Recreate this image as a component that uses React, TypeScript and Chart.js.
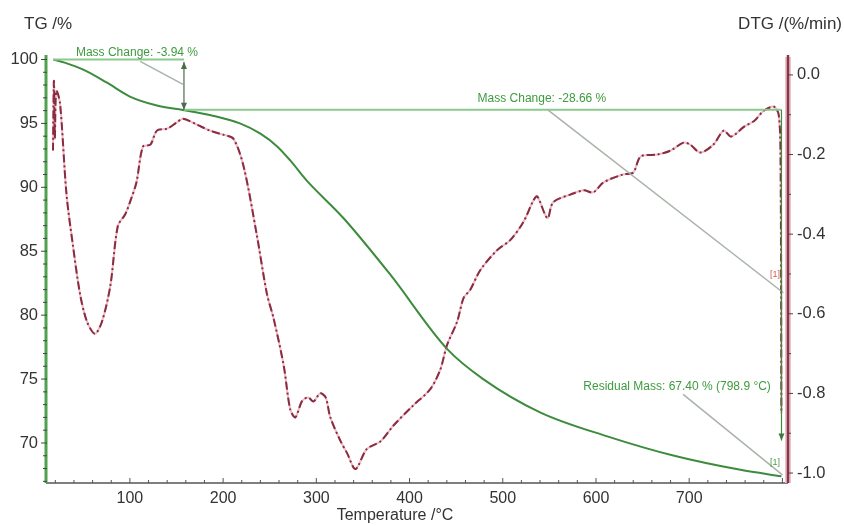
import React, { useEffect, useRef } from "react";
import { Chart, registerables } from "chart.js";

Chart.register(...registerables);

// ---------- data ----------
const tgTemp = [18, 30, 50, 75, 100, 129, 157, 189, 218, 240, 258, 272, 290, 329, 379, 441, 479, 540, 613, 684, 755, 798.9];
const tgMass = [100, 99.75, 99.2, 98.2, 97.1, 96.4, 96.05, 95.6, 95.0, 94.2, 93.2, 92.1, 90.5, 87.6, 83.2, 77.3, 75.0, 72.4, 70.5, 69.0, 67.9, 67.4];

const dtgTemp = [17.5, 18.5, 19.5, 21, 25, 32, 39, 46.5, 54, 62.5, 70, 79, 87, 95, 100, 107, 114, 122, 129, 140, 150, 157, 172, 186, 200, 211, 222, 236, 247, 254, 265, 272, 277.5, 284.5, 291, 297, 304, 310, 315, 326, 333, 342, 354, 369, 383, 404, 422, 433, 440, 451, 458, 465, 476, 494, 508, 522, 533, 537, 548, 554, 573, 587, 597, 608, 629, 640, 648, 666, 680, 694, 701, 712, 726, 737, 745, 759, 770, 780, 791, 796, 798, 798.9];
const dtgRate = [-0.19, -0.015, -0.16, -0.04, -0.07, -0.3, -0.43, -0.55, -0.62, -0.65, -0.62, -0.53, -0.38, -0.35, -0.32, -0.27, -0.18, -0.175, -0.14, -0.135, -0.12, -0.11, -0.125, -0.14, -0.15, -0.16, -0.23, -0.4, -0.55, -0.61, -0.73, -0.84, -0.86, -0.82, -0.81, -0.82, -0.8, -0.81, -0.86, -0.92, -0.95, -0.99, -0.94, -0.92, -0.88, -0.83, -0.79, -0.74, -0.68, -0.62, -0.56, -0.54, -0.49, -0.44, -0.415, -0.37, -0.315, -0.305, -0.36, -0.32, -0.3, -0.29, -0.295, -0.27, -0.25, -0.245, -0.205, -0.2, -0.19, -0.17, -0.175, -0.195, -0.175, -0.14, -0.155, -0.13, -0.115, -0.09, -0.08, -0.1, -0.2, -0.85];

const xTicks = [100, 200, 300, 400, 500, 600, 700];
const tgTicks = [70, 75, 80, 85, 90, 95, 100];
const dtgTicks = [-1.0, -0.8, -0.6, -0.4, -0.2, 0.0];

// mass-change evaluation (temperatures in °C, levels in %)
const stepTemps = [18, 158, 799];
const stepLevels = [100, 96.06, 67.4];
const stepLabels = ["Mass Change: -3.94 %", "Mass Change: -28.66 %"];
const residualLabel = "Residual Mass: 67.40 % (798.9 °C)";

const FONT = "'Liberation Sans', Arial, sans-serif";

function arrowHead(ctx: CanvasRenderingContext2D, x: number, y: number, dir: number, color: string) {
  ctx.fillStyle = color;
  ctx.beginPath();
  ctx.moveTo(x, y);
  ctx.lineTo(x - 3, y - dir * 7);
  ctx.lineTo(x + 3, y - dir * 7);
  ctx.closePath();
  ctx.fill();
}

const overlay = {
  id: "overlay",
  afterDatasetsDraw(chart: any) {
    const ctx: CanvasRenderingContext2D = chart.ctx;
    const { left, right, top, bottom } = chart.chartArea;
    const sx = chart.scales.x;
    const sy = chart.scales.y;
    const sy1 = chart.scales.y1;
    const px = (t: number) => sx.getPixelForValue(t);
    const py = (v: number) => sy.getPixelForValue(v);
    ctx.save();

    // ---- annotations ----
    const lightGreen = "#8cc98c";
    ctx.lineWidth = 2;
    ctx.strokeStyle = lightGreen;
    ctx.beginPath();
    ctx.moveTo(px(stepTemps[0]), py(stepLevels[0]));
    ctx.lineTo(px(stepTemps[1]), py(stepLevels[0]));
    ctx.moveTo(px(stepTemps[1]), py(stepLevels[1]));
    ctx.lineTo(px(stepTemps[2]), py(stepLevels[1]));
    ctx.stroke();

    // leader lines
    ctx.strokeStyle = "#a9b3a9";
    ctx.lineWidth = 1.5;
    const leaders = [
      [111, 99.85, 157, 98.05],
      [548, 96.08, 801, 81.75],
      [693.5, 73.8, 800, 67.5],
    ];
    leaders.forEach(([t1, v1, t2, v2]) => {
      ctx.beginPath();
      ctx.moveTo(px(t1), py(v1));
      ctx.lineTo(px(t2), py(v2));
      ctx.stroke();
    });

    // arrow 1 (double headed)
    const a1x = px(stepTemps[1]);
    const a1t = py(99.8);
    const a1b = py(stepLevels[1]);
    ctx.strokeStyle = "#4d6a4d";
    ctx.lineWidth = 1.2;
    ctx.beginPath();
    ctx.moveTo(a1x, a1t);
    ctx.lineTo(a1x, a1b);
    ctx.stroke();
    arrowHead(ctx, a1x, a1t, -1, "#4d6a4d");
    arrowHead(ctx, a1x, a1b, 1, "#4d6a4d");

    // arrow 2
    const a2x = px(stepTemps[2]);
    const a2t = py(stepLevels[1]);
    const a2b = py(70.2);
    ctx.strokeStyle = "#3f8a3f";
    ctx.beginPath();
    ctx.moveTo(a2x, a2t);
    ctx.lineTo(a2x, a2b);
    ctx.stroke();
    arrowHead(ctx, a2x, a2b, 1, "#3f7a3f");

    // labels
    ctx.font = `12px ${FONT}`;
    ctx.fillStyle = "#3e9b3e";
    ctx.textAlign = "center";
    ctx.textBaseline = "middle";
    ctx.fillText(stepLabels[0], px(107.6), py(100.51));
    ctx.fillText(stepLabels[1], px(542), py(96.91));
    ctx.fillText(residualLabel, px(687), py(74.38));
    ctx.font = `9px ${FONT}`;
    ctx.fillStyle = "#d06050";
    ctx.fillText("[1]", px(792), py(83.2));
    ctx.fillStyle = "#4a9a4a";
    ctx.fillText("[1]", px(792), py(68.5));

    // ---- axes ----
    // bottom axis
    ctx.strokeStyle = "#555";
    ctx.lineWidth = 1.5;
    ctx.beginPath();
    ctx.moveTo(left, bottom);
    ctx.lineTo(right, bottom);
    ctx.stroke();
    ctx.lineWidth = 1;
    ctx.beginPath();
    for (let t = 20; t <= 800; t += 20) {
      const x = px(t);
      const len = t % 100 === 0 ? 5 : 3;
      ctx.moveTo(x, bottom);
      ctx.lineTo(x, bottom - len);
    }
    ctx.stroke();

    // left axis (green)
    ctx.strokeStyle = "#4fa34f";
    ctx.lineWidth = 3;
    ctx.beginPath();
    ctx.moveTo(left, top);
    ctx.lineTo(left, bottom);
    ctx.stroke();
    ctx.strokeStyle = "#444";
    ctx.lineWidth = 1;
    ctx.beginPath();
    for (let v = 67; v <= 100; v += 1) {
      const y = py(v);
      const len = v % 5 === 0 ? 5 : 3;
      ctx.moveTo(left - len, y);
      ctx.lineTo(left + 1, y);
    }
    ctx.stroke();

    // right axis (maroon)
    ctx.strokeStyle = "#e8c5cc";
    ctx.lineWidth = 6;
    ctx.beginPath();
    ctx.moveTo(right, top + 2);
    ctx.lineTo(right, bottom);
    ctx.stroke();
    ctx.strokeStyle = "#8e3448";
    ctx.lineWidth = 2.5;
    ctx.beginPath();
    ctx.moveTo(right, top);
    ctx.lineTo(right, bottom);
    ctx.stroke();
    ctx.strokeStyle = "#444";
    ctx.lineWidth = 1;
    ctx.beginPath();
    for (let k = -10; k <= 0; k++) {
      const v = k / 10;
      const y = sy1.getPixelForValue(v);
      const len = k % 2 === 0 ? 5 : 3;
      ctx.moveTo(right, y);
      ctx.lineTo(right + len, y);
    }
    ctx.stroke();

    // titles
    ctx.fillStyle = "#333";
    ctx.font = `17px ${FONT}`;
    ctx.textBaseline = "middle";
    ctx.textAlign = "left";
    ctx.fillText("TG /%", 24, 24);
    ctx.textAlign = "right";
    ctx.fillText("DTG /(%/min)", 842, 24);
    ctx.textAlign = "center";
    ctx.font = `16px ${FONT}`;
    ctx.fillText("Temperature /°C", 395, 516);

    ctx.restore();
  },
};

export default function App() {
  const ref = useRef<HTMLCanvasElement>(null);
  useEffect(() => {
    if (!ref.current) return;
    const dtgPoints = dtgTemp.map((t, i) => ({ x: t, y: dtgRate[i] }));
    const chart = new Chart(ref.current, {
      type: "line",
      data: {
        datasets: [
          {
            label: "TG",
            data: tgTemp.map((t, i) => ({ x: t, y: tgMass[i] })),
            yAxisID: "y",
            borderColor: "#3d8b3d",
            borderWidth: 2,
            pointRadius: 0,
            cubicInterpolationMode: "monotone",
          },
          {
            label: "DTG",
            data: dtgPoints,
            yAxisID: "y1",
            borderColor: "#8a2c40",
            borderWidth: 2,
            borderDash: [8, 3, 2, 3],
            pointRadius: 0,
            tension: 0.3,
          },
          {
            label: "DTG halo",
            data: dtgPoints,
            yAxisID: "y1",
            borderColor: "rgba(230,170,185,0.8)",
            borderWidth: 2,
            pointRadius: 0,
            tension: 0.3,
            order: 5,
          },
        ],
      },
      options: {
        responsive: false,
        animation: false,
        layout: { padding: { top: 55, left: 0, right: 0, bottom: 0 } },
        plugins: { legend: { display: false }, tooltip: { enabled: false } },
        scales: {
          x: {
            type: "linear",
            min: 10,
            max: 806,
            afterBuildTicks: (s: any) => {
              s.ticks = xTicks.map((v) => ({ value: v }));
            },
            afterFit: (s: any) => {
              s.height = 43;
            },
            grid: { display: false, drawTicks: false },
            border: { display: false },
            ticks: { font: { size: 16, family: FONT }, color: "#333", padding: 6, maxRotation: 0 },
          },
          y: {
            type: "linear",
            position: "left",
            min: 66.87,
            max: 100.35,
            afterBuildTicks: (s: any) => {
              s.ticks = tgTicks.map((v) => ({ value: v }));
            },
            afterFit: (s: any) => {
              s.width = 46;
            },
            grid: { display: false, drawTicks: false },
            border: { display: false },
            ticks: { font: { size: 16.5, family: FONT }, color: "#333", padding: 8 },
          },
          y1: {
            type: "linear",
            position: "right",
            min: -1.025,
            max: 0.05,
            afterBuildTicks: (s: any) => {
              s.ticks = dtgTicks.map((v) => ({ value: v }));
            },
            afterFit: (s: any) => {
              s.width = 56;
            },
            grid: { display: false, drawTicks: false },
            border: { display: false },
            ticks: {
              font: { size: 16.5, family: FONT },
              color: "#333",
              padding: 9,
              callback: (v: any) => Number(v).toFixed(1),
            },
          },
        },
      },
      plugins: [overlay],
    } as any);
    return () => chart.destroy();
  }, []);
  return (
    <div style={{ position: "absolute", left: 0, top: 0, width: 844, height: 526, background: "#fff" }}>
      <canvas ref={ref} width={844} height={526} />
    </div>
  );
}
